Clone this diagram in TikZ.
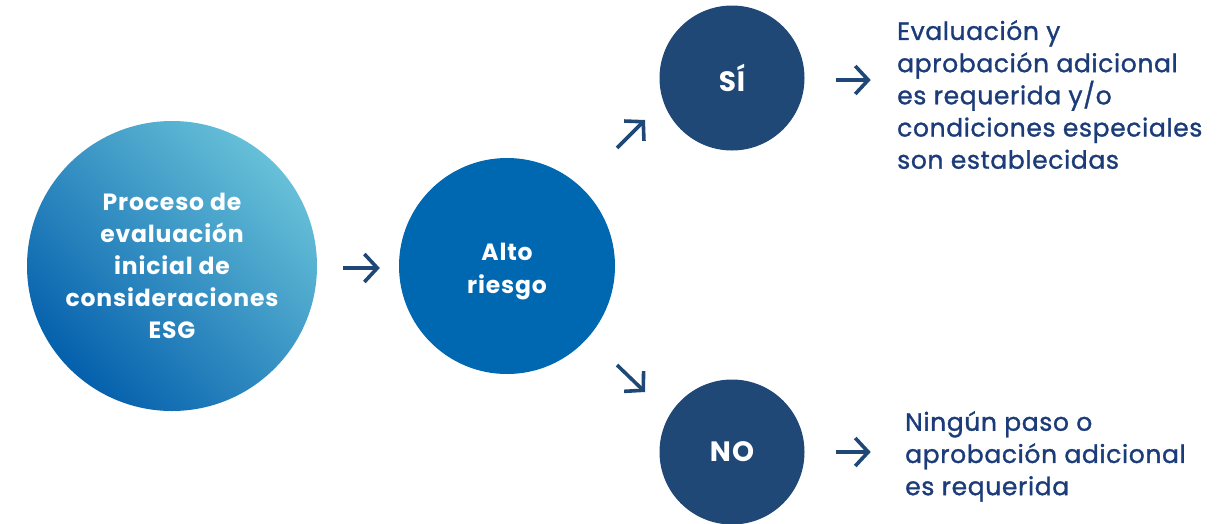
\documentclass[tikz,border=0pt]{standalone}
\usepackage{fontspec}
\setmainfont{Poppins}
\newfontfamily\sidefont{Poppins}[LetterSpace=2.5, FakeBold=1.2]
\newfontfamily\whitefont{Poppins}[LetterSpace=3.6]
\usetikzlibrary{arrows.meta}
\definecolor{navy}{HTML}{1F4876}
\definecolor{txtnavy}{HTML}{1B3C78}
\definecolor{midblue}{HTML}{0067B1}
\definecolor{lightblue}{HTML}{66C0D8}
\definecolor{darkblue}{HTML}{0560AD}
\begin{document}
\begin{tikzpicture}[x=1pt,y=-1pt,
  bubble/.style={circle, inner sep=0pt, font=\whitefont\bfseries\fontsize{23.5}{32}\selectfont, text=white, align=center},
  answer/.style={bubble, minimum size=145pt, fill=navy, font=\whitefont\bfseries\fontsize{28}{32}\selectfont},
  arr/.style={draw=navy, line width=3.6pt, -{Straight Barb[length=13pt,width=28pt]}},
  side/.style={font=\sidefont\fontsize{25}{32.2}\selectfont, text=txtnavy, align=left, anchor=north west, inner sep=0pt}]
\useasboundingbox (0,0) rectangle (1228,523);
\node[bubble, minimum size=290pt, top color=lightblue, bottom color=darkblue, shading angle=-45] (c1) at (172,266)
  {Proceso de\\evaluación\\inicial de\\consideraciones\\ESG};
\node[bubble, minimum size=216pt, fill=midblue] (c2) at (507,266) {};
\node[bubble, font=\whitefont\bfseries\fontsize{23.5}{33}\selectfont] (c2t) at ([yshift=-6pt]c2.center) {Alto\\riesgo};
\node[answer] (cs) at (732,78) {SÍ};
\node[answer] (cn) at (732,452) {NO};
\node[side] (ts) at (897,20) {Evaluación y\\aprobación adicional\\es requerida y/o\\condiciones especiales\\son establecidas};
\node[side] (tn) at (905,411) {Ningún paso o\\aprobación adicional\\es requerida};
\coordinate (d1s) at (617,148);
\coordinate (d1e) at (645,120);
\coordinate (d2s) at (617,365);
\coordinate (d2e) at (645,392);
\draw[arr] ([xshift=26pt,yshift=-2pt]c1.east) -- ([xshift=-19pt,yshift=-2pt]c2.west);
\draw[arr] (d1s) -- (d1e);
\draw[arr] (d2s) -- (d2e);
\draw[arr] ([xshift=31pt,yshift=-2pt]cs.east) -- ++(35,0);
\draw[arr] ([xshift=31pt]cn.east) -- ++(35,0);
\end{tikzpicture}
\end{document}
